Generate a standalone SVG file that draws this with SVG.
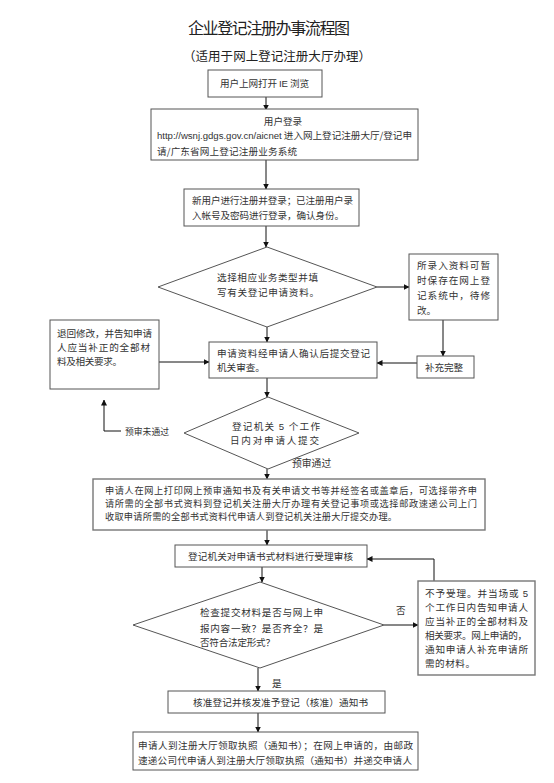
<svg xmlns="http://www.w3.org/2000/svg" width="554" height="783" viewBox="0 0 554 783">
<defs>
<marker id="ah" markerWidth="6" markerHeight="6" refX="5.5" refY="3" orient="auto" markerUnits="userSpaceOnUse">
<path d="M0,0 L6,3 L0,6 z" fill="#111"/>
</marker>
<style>
text{font-family:"Noto Sans CJK SC","Noto Sans",sans-serif;fill:#333;font-size:9.6px}
.t{font-size:16px;fill:#222}
.st{font-size:12.5px;fill:#222}
.sm{font-size:9.2px}
.b{fill:#fff;stroke:#555;stroke-width:1}
.b2{fill:#fff;stroke:#777;stroke-width:1.4}
.c{fill:none;stroke:#111;stroke-width:1;marker-end:url(#ah)}
.m{text-anchor:middle}
.u{font-family:"Liberation Sans",Arial,sans-serif}
</style>
</defs>
<rect width="554" height="783" fill="#fff"/>
<text class="t" x="188" y="34" textLength="162">企业登记注册办事流程图</text>
<text class="st" x="183" y="61" textLength="188">（适用于网上登记注册大厅办理）</text>

<g id="connectors">
<path class="c" d="M266,97 V110"/>
<path class="c" d="M266,160 V189"/>
<path class="c" d="M266,226 V247"/>
<path class="c" d="M377,287 H409"/>
<path class="c" d="M443,320 V356"/>
<path class="c" d="M417,363 H377"/>
<path class="c" d="M159,362 H209"/>
<path class="c" d="M267,327 V342"/>
<path class="c" d="M267,378 V397"/>
<path class="c" d="M121,431 H104 V400"/>
<path class="c" d="M267,469 V479"/>
<path class="c" d="M267,530 V545"/>
<path class="c" d="M262,567 V582"/>
<path class="c" d="M384,625 H418"/>
<path class="c" d="M434,581 V559 H367"/>
<path class="c" d="M258,668 V691"/>
<path class="c" d="M258,713 V732"/>
<text x="125" y="434.5" style="font-size:8.8px">预审未通过</text>
<text x="292" y="467" style="font-size:9.8px">预审通过</text>
<text x="396" y="613.5">否</text>
<text x="272" y="686.5">是</text>
</g>

<g id="n1">
<rect class="b" x="208" y="70" width="114" height="27"/>
<text x="220" y="87" textLength="89">用户上网打开 <tspan class="u">IE</tspan> 浏览</text>
</g>

<g id="n2">
<rect class="b" x="151" y="109" width="267" height="51"/>
<text class="m" x="283" y="125">用户登录</text>
<text x="157" y="139" textLength="255"><tspan class="u">http://wsnj.gdgs.gov.cn/aicnet</tspan> 进入网上登记注册大厅/登记申</text>
<text x="157" y="154.5" textLength="140">请/广东省网上登记注册业务系统</text>
</g>

<g id="n3">
<rect class="b" x="184" y="189" width="175" height="37"/>
<text x="192" y="203.5" textLength="161">新用户进行注册并登录；已注册用户录</text>
<text x="192" y="219" textLength="152">入帐号及密码进行登录，确认身份。</text>
</g>

<g id="n4">
<polygon class="b" points="267,247 377,287 267,327 158,287"/>
<text x="217" y="280.5" textLength="101">选择相应业务类型并填</text>
<text x="217" y="295.5" textLength="102">写有关登记申请资料。</text>
</g>

<g id="n5">
<rect class="b" x="409" y="254" width="89" height="66"/>
<text x="417" y="269" textLength="73">所录入资料可暂</text>
<text x="417" y="284" textLength="73">时保存在网上登</text>
<text x="417" y="299" textLength="73">记系统中，待修</text>
<text x="417" y="314">改。</text>
</g>

<g id="n6">
<rect class="b" x="417" y="356" width="57" height="22"/>
<text x="425" y="370.5" textLength="38">补充完整</text>
</g>

<g id="n7">
<rect class="b" x="209" y="342" width="168" height="36"/>
<text x="217" y="356.5" textLength="153">申请资料经申请人确认后提交登记</text>
<text x="217" y="370.5">机关审查。</text>
</g>

<g id="n8">
<rect class="b" x="50" y="320" width="109" height="69"/>
<text x="57" y="336.5" textLength="95">退回修改，并告知申请</text>
<text x="57" y="350.5" textLength="93">人应当补正的全部材</text>
<text x="57" y="364.5" textLength="65">料及相关要求。</text>
</g>

<g id="n9">
<polygon class="b" points="268,397 359,433 268,469 184,433"/>
<text x="232" y="429.5" textLength="88">登记机关 <tspan class="u">5</tspan> 个工作</text>
<text x="230" y="443.5" textLength="89">日内对申请人提交</text>
</g>

<g id="n10">
<rect class="b2" x="93" y="479" width="392" height="51"/>
<text class="sm" x="105" y="493.5" textLength="372">申请人在网上打印网上预审通知书及有关申请文书等并经签名或盖章后，可选择带齐申</text>
<text class="sm" x="105" y="506.5" textLength="372">请所需的全部书式资料到登记机关注册大厅办理有关登记事项或选择邮政速递公司上门</text>
<text class="sm" x="105" y="519.5" textLength="292">收取申请所需的全部书式资料代申请人到登记机关注册大厅提交办理。</text>
</g>

<g id="n11">
<rect class="b" x="175" y="545" width="192" height="22"/>
<text x="188" y="559.5" textLength="165">登记机关对申请书式材料进行受理审核</text>
</g>

<g id="n12">
<polygon class="b" points="260,582 384,625 260,668 133,625"/>
<text x="200" y="615.5" textLength="123">检查提交材料是否与网上申</text>
<text x="200" y="631.5" textLength="123">报内容一致？是否齐全？是</text>
<text x="200" y="645.5" textLength="75">否符合法定形式？</text>
</g>

<g id="n13">
<rect class="b2" x="418" y="581" width="117" height="94"/>
<text x="425" y="596.5" textLength="103">不予受理。并当场或 <tspan class="u">5</tspan></text>
<text x="425" y="610.5" textLength="103">个工作日内告知申请人</text>
<text x="425" y="625" textLength="103">应当补正的全部材料及</text>
<text x="425" y="638.5" textLength="102">相关要求。网上申请的，</text>
<text x="425" y="653" textLength="103">通知申请人补充申请所</text>
<text x="425" y="666.5" textLength="50">需的材料。</text>
</g>

<g id="n14">
<rect class="b" x="168" y="691" width="217" height="22"/>
<text x="193" y="705.5" textLength="175">核准登记并核发准予登记（核准）通知书</text>
</g>

<g id="n15">
<rect class="b" x="133" y="732" width="285" height="38"/>
<text x="138" y="748.5" textLength="275">申请人到注册大厅领取执照（通知书）；在网上申请的，由邮政</text>
<text x="138" y="763.5" textLength="274">速递公司代申请人到注册大厅领取执照（通知书）并递交申请人</text>
</g>
</svg>
